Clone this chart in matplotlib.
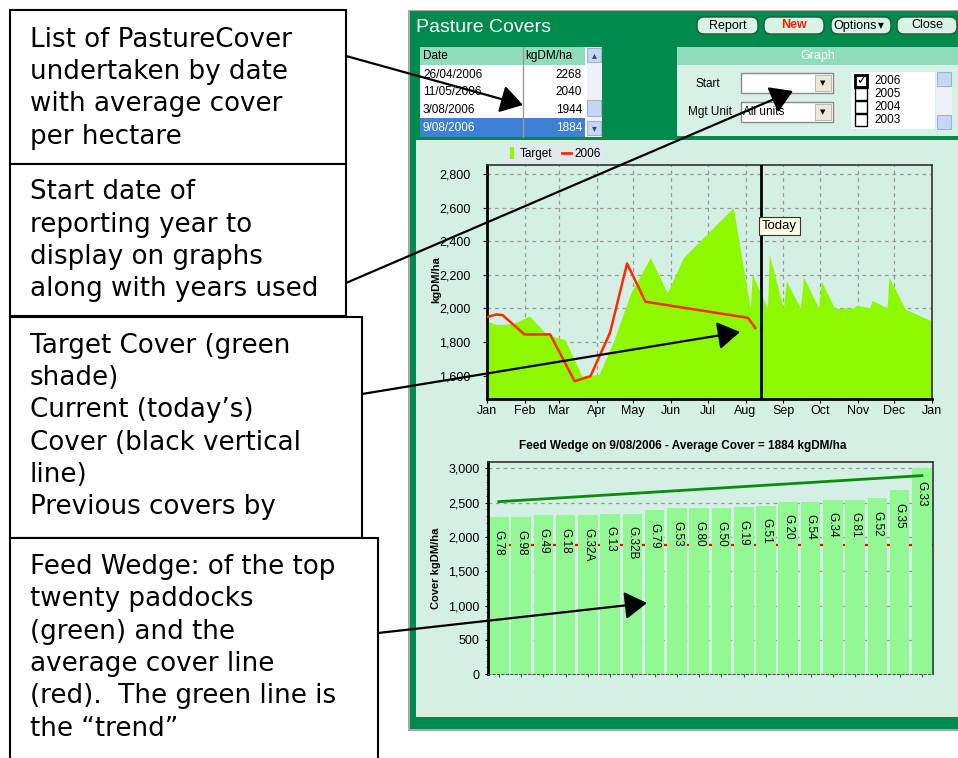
import numpy as np
import matplotlib.pyplot as plt
from matplotlib.patches import Rectangle, FancyBboxPatch
from matplotlib.lines import Line2D
from matplotlib.ticker import FuncFormatter, MultipleLocator

W, H = 958, 758

# ---------------- data ----------------
month_starts = [0, 31, 59, 90, 120, 151, 181, 212, 243, 273, 304, 334, 365]
month_labels = ["Jan", "Feb", "Mar", "Apr", "May", "Jun", "Jul", "Aug",
                "Sep", "Oct", "Nov", "Dec", "Jan"]

# target cover (green shade), day of year -> kgDM/ha
target_days = [0, 8, 21, 35, 49, 58, 64, 78, 92, 104, 118, 134, 148, 161, 202,
               212, 216, 217.5, 230, 231.5, 243, 245.5, 257, 259.5, 272, 274,
               285, 301, 302.5, 314, 315.5, 328, 329.5, 343, 365]
target_cover = [1924, 1904, 1908, 1954, 1845, 1825, 1815, 1596, 1606, 1805, 2093,
                2302, 2093, 2302, 2601, 2163, 2000, 2203, 2000, 2322, 2000, 2163,
                2000, 2187, 2000, 2163, 2000, 2004, 2018, 2004, 2048, 2004, 2187,
                1994, 1924]

# 2006 covers
cover_days = [0, 8, 13, 31, 52, 72, 85, 101, 115, 130, 214, 220]
cover_2006 = [1948, 1964, 1960, 1845, 1845, 1566, 1596, 1855, 2268, 2040, 1944, 1884]
today_day = 225

# feed wedge
paddocks = ["G.78", "G.98", "G.49", "G.18", "G.32A", "G.13", "G.32B", "G.79", "G.53",
            "G.80", "G.50", "G.19", "G.51", "G.20", "G.54", "G.34", "G.81", "G.52",
            "G.35", "G.33"]
paddock_cover = [2286, 2286, 2315, 2315, 2315, 2340, 2340, 2388, 2417, 2417, 2417,
                 2432, 2451, 2514, 2514, 2543, 2543, 2563, 2679, 3000]
average_cover = 1884
trend_ends = [2514, 2893]

# list of pasture covers
list_dates = ["26/04/2006", "11/05/2006", "3/08/2006", "9/08/2006"]
list_covers = [2268, 2040, 1944, 1884]
years = ["2006", "2005", "2004", "2003"]

# callout boxes
box_texts = [
    ["List of PastureCover", "undertaken by date", "with average cover", "per hectare"],
    ["Start date of", "reporting year to", "display on graphs", "along with years used"],
    ["Target Cover (green", "shade)", "Current (today\u2019s)", "Cover (black vertical",
     "line)", "Previous covers by"],
    ["Feed Wedge: of the top", "twenty paddocks", "(green) and the",
     "average cover line", "(red).  The green line is", "the \u201ctrend\u201d"],
]

# ---------------- style ----------------
GREEN = "#008a4b"
MINT = "#d4efe4"
HEAD = "#8fdcbc"
TARGET = "#8ef800"
BAR = "#93f793"
UI = "Liberation Sans"


def px_rect(x0, y0, x1, y1):
    return [x0 / W, 1 - y1 / H, (x1 - x0) / W, (y1 - y0) / H]


def rect(ax, x0, y0, x1, y1, **kw):
    ax.add_patch(Rectangle((x0, y0), x1 - x0, y1 - y0, **kw))


fig = plt.figure(figsize=(W / 100, H / 100), dpi=100, facecolor="white")
bg = fig.add_axes([0, 0, 1, 1], zorder=0)
bg.set_xlim(0, W)
bg.set_ylim(H, 0)
bg.axis("off")
top = fig.add_axes([0, 0, 1, 1], zorder=3)
top.set_xlim(0, W)
top.set_ylim(H, 0)
top.axis("off")

# ---- callout boxes on the left
box_geo = [(10, 10, 346, 164, 46.7), (10, 164, 346, 316, 199.3),
           (10, 317, 362, 538, 352.7), (10, 538, 378, 775, 574)]
for (x0, y0, x1, y1, base), lines in zip(box_geo, box_texts):
    rect(bg, x0, y0, x1, y1, fc="white", ec="black", lw=1.5)
    for i, s in enumerate(lines):
        bg.text(30, base + i * 32.3, s, fontsize=18.8, family="DejaVu Sans",
                va="baseline", ha="left")

# ---- window
rect(bg, 408, 10, 962, 731, fc="#a9a9a9", lw=0)
rect(bg, 410, 11, 962, 729, fc=GREEN, lw=0)
rect(bg, 416, 140, 962, 717, fc=MINT, lw=0)
bg.text(416, 27, "Pasture Covers", color="white", fontsize=14, family=UI,
        va="center", ha="left")

for label, x0, x1, col, wt in [("Report", 697, 758, "black", "normal"),
                               ("New", 764, 824, "#ff2000", "bold"),
                               ("Options", 831, 891, "black", "normal"),
                               ("Close", 897, 957, "black", "normal")]:
    bg.add_patch(FancyBboxPatch((x0, 17), x1 - x0, 17,
                                boxstyle="round,pad=0,rounding_size=7",
                                fc="#d8f2e6", ec="#23573d", lw=1))
    cx = (x0 + x1) / 2 - (6 if label == "Options" else 0)
    bg.text(cx, 25.5, label, fontsize=9, color=col, fontweight=wt, family=UI,
            ha="center", va="center")
    if label == "Options":
        bg.text(881, 26, "\u25bc", fontsize=5.5, ha="center", va="center")

# list table
rect(bg, 420, 47, 602, 137, fc="white", lw=0)
rect(bg, 420, 47, 585, 65, fc=HEAD, lw=0)
rect(bg, 420, 118, 585, 137, fc="#3d80d4", lw=0)
bg.plot([522.7, 522.7], [47, 137], color="#9a9a9a", lw=1)
bg.text(423, 56, "Date", fontsize=8.5, family=UI, va="center")
bg.text(525, 56, "kgDM/ha", fontsize=8.5, family=UI, va="center")
for i, (d, c) in enumerate(zip(list_dates, list_covers)):
    yc = 74.5 + i * 17.8
    col = "white" if i == len(list_dates) - 1 else "black"
    bg.text(423, yc, d, fontsize=8.5, family=UI, va="center", color=col)
    bg.text(582, yc, str(c), fontsize=8.5, family=UI, va="center", ha="right", color=col)
rect(bg, 587, 47, 602, 137, fc="#eef2f8", lw=0)
for yy in (48, 121):
    rect(bg, 587.5, yy, 601.5, yy + 14, fc="#c6d7f2", ec="#9fb3d9", lw=0.8)
rect(bg, 587.5, 100, 601.5, 116, fc="#c6d7f2", ec="#9fb3d9", lw=0.8)
bg.text(594.5, 55, "\u25b4", fontsize=7, ha="center", va="center", color="#33477a")
bg.text(594.5, 128, "\u25be", fontsize=7, ha="center", va="center", color="#33477a")

# graph options panel
rect(bg, 677, 47, 962, 65, fc=HEAD, lw=0)
rect(bg, 677, 65, 962, 136, fc="#d8f1e6", lw=0)
bg.text(818, 56, "Graph", color="white", fontsize=9, family=UI, ha="center", va="center")
bg.text(708, 84, "Start", fontsize=8.5, family=UI, ha="center", va="center")
bg.text(710, 111.5, "Mgt Unit", fontsize=8.5, family=UI, ha="center", va="center")
for y0 in (73, 102):
    rect(bg, 741, y0, 833, y0 + 20, fc="white", ec="#8a8a8a", lw=1)
    rect(bg, 815, y0 + 2, 831, y0 + 18, fc="#ece9d8", ec="#b0b0b0", lw=0.6)
    bg.text(823, y0 + 10, "\u25bc", fontsize=5, ha="center", va="center")
bg.text(743, 112, "All units", fontsize=8.5, family=UI, va="center")
rect(bg, 851, 72, 935, 129, fc="white", lw=0)
for i, yr in enumerate(years):
    yc = 80.7 + i * 13.1
    rect(bg, 855, yc - 6, 867, yc + 6, fc="white", ec="black", lw=2 if i == 0 else 1)
    if i == 0:
        bg.text(861, yc, "\u2713", fontsize=9, ha="center", va="center",
                family="DejaVu Sans", fontweight="bold")
    bg.text(874, yc, yr, fontsize=8.5, family=UI, va="center")
rect(bg, 936, 72, 952, 129, fc="#eef2f8", lw=0)
for yy in (72, 115):
    rect(bg, 937, yy, 951, yy + 14, fc="#c6d7f2", ec="#9fb3d9", lw=0.8)

# ---------------- pasture cover chart ----------------
fmt = FuncFormatter(lambda v, p: f"{int(v):,}")
ax1 = fig.add_axes(px_rect(486.7, 165, 932.3, 399), zorder=1)
ax1.set_facecolor(MINT)
ax1.set_axisbelow(True)
ax1.grid(True, ls=(0, (3, 3)), color="#9a9a9a", lw=0.9)
ax1.fill_between(target_days, target_cover, 1400, color=TARGET, lw=0, zorder=1)
ax1.plot(cover_days, cover_2006, color="#ff2a00", lw=1.8, zorder=3)
ax1.axvline(today_day, color="black", lw=2, zorder=4)
ax1.text(today_day + 0.5, 2490, "Today", fontsize=9.5, family=UI, ha="left", va="center",
         zorder=5, bbox=dict(boxstyle="square,pad=0.22", fc="#ffffe6", ec="#333333", lw=0.8))
ax1.set_xlim(0, 365)
ax1.set_ylim(1460, 2855)
ax1.set_xticks(month_starts)
ax1.set_xticklabels(month_labels)
ax1.set_yticks(range(1600, 2801, 200))
ax1.yaxis.set_major_formatter(fmt)
ax1.tick_params(axis="y", length=3, pad=8.5, labelsize=9)
ax1.tick_params(axis="x", length=3, pad=1.5, labelsize=9)
for lab in ax1.get_xticklabels() + ax1.get_yticklabels():
    lab.set_family(UI)
for side in ("left", "bottom"):
    ax1.spines[side].set_linewidth(2)
for side in ("top", "right"):
    ax1.spines[side].set_color("#333333")
    ax1.spines[side].set_linewidth(1.2)
ax1.set_ylabel("kgDM/ha", fontsize=8, fontweight="bold", family=UI)
ax1.yaxis.set_label_coords(440.8, 280, transform=bg.transData)
handles = [Line2D([], [], color=TARGET, marker="|", ls="none", markersize=9, mew=3),
           Line2D([], [], color="#ff2a00", lw=2)]
leg = ax1.legend(handles, ["Target", "2006"], ncol=2, loc="center",
                 bbox_to_anchor=(554, 154), bbox_transform=bg.transData,
                 frameon=True, fancybox=False, edgecolor="none", facecolor="#dfe9ee",
                 framealpha=1, prop={"family": UI, "size": 8.5}, handlelength=0.8,
                 handletextpad=0.3, columnspacing=0.8, borderpad=0.25)

# ---------------- feed wedge chart ----------------
ax2 = fig.add_axes(px_rect(487.7, 462.3, 933, 674.3), zorder=1)
ax2.set_facecolor(MINT)
ax2.set_axisbelow(True)
ax2.grid(True, axis="y", ls=(0, (3, 3)), color="#9a9a9a", lw=0.9)
pos = np.arange(len(paddocks))
ax2.axhline(average_cover, color="red", lw=1.6, zorder=1)
ax2.bar(pos, paddock_cover, width=0.88, color=BAR, zorder=2)
ax2.plot([pos[0], pos[-1]], trend_ends, color="#0b8c0b", lw=2, zorder=3)
for p, name, v in zip(pos, paddocks, paddock_cover):
    ax2.annotate(name, (p, v), xytext=(0, -9), textcoords="offset points",
                 rotation=270, ha="center", va="top", fontsize=8.5, family=UI, zorder=4)
ax2.set_xlim(-0.5, 19.5)
ax2.set_ylim(0, 3087)
ax2.set_xticks(pos)
ax2.set_xticklabels([])
ax2.set_yticks(range(0, 3001, 500))
ax2.yaxis.set_minor_locator(MultipleLocator(100))
ax2.yaxis.set_major_formatter(fmt)
ax2.tick_params(axis="y", length=2, pad=4, labelsize=9)
ax2.tick_params(axis="y", which="minor", length=1.5)
ax2.tick_params(axis="x", length=2, color="#555555")
for lab in ax2.get_yticklabels():
    lab.set_family(UI)
ax2.spines["left"].set_linewidth(2)
ax2.spines["bottom"].set_linestyle((0, (2, 2)))
ax2.spines["bottom"].set_color("#555555")
for side in ("top", "right"):
    ax2.spines[side].set_color("#333333")
    ax2.spines[side].set_linewidth(1.2)
ax2.set_ylabel("Cover kgDM/ha", fontsize=8, fontweight="bold", family=UI)
ax2.yaxis.set_label_coords(440.8, 568, transform=bg.transData)
top.text(683, 446, "Feed Wedge on 9/08/2006 - Average Cover = 1884 kgDM/ha",
         fontsize=8.5, fontweight="bold", family=UI, ha="center", va="center")

# ---------------- callout arrows ----------------
arrows = [((346, 56), (523, 105)), ((346, 283), (793, 91)),
          ((362, 394), (740, 332)), ((378, 633), (647, 603))]
for start, tip in arrows:
    top.annotate("", xy=tip, xytext=start, xycoords="data",
                 arrowprops=dict(arrowstyle="-|>,head_length=1.05,head_width=0.65",
                                 mutation_scale=13, color="black", lw=1.6,
                                 shrinkA=0, shrinkB=0))

fig.savefig("out.png", dpi=100)
